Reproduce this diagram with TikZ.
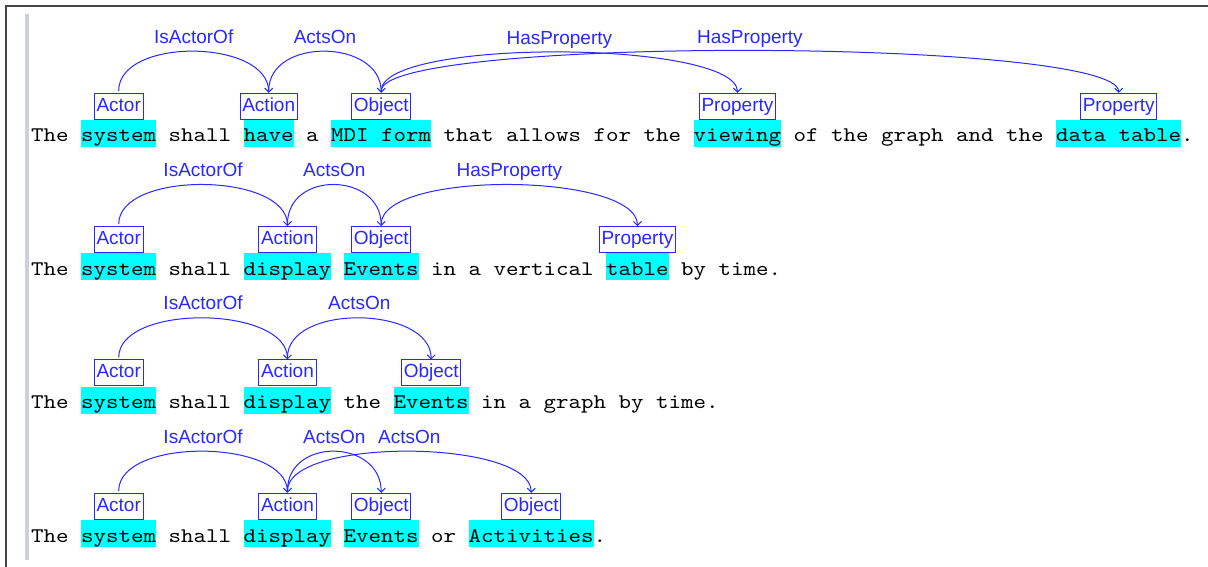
\documentclass[tikz,border=0pt]{standalone}
\usepackage{fontspec}
\newfontfamily\sentfont[FakeStretch=1.143]{lmmono10-regular.otf}
\newfontfamily\tagfont{Liberation Sans}
\usetikzlibrary{arrows.meta}
\definecolor{hlcyan}{RGB}{0,255,255}
\definecolor{relblue}{RGB}{40,40,255}
\definecolor{framegray}{RGB}{70,70,70}
\definecolor{barlav}{RGB}{205,205,228}
\tikzset{
  words/.style={anchor=base west, inner sep=0pt, text=black,
    font=\sentfont\fontsize{20.833}{24}\selectfont},
  hlword/.style={words, fill=hlcyan, text height=22pt, text depth=5pt},
  tag/.style={draw=relblue, line width=1pt, text=relblue, anchor=south,
    font=\tagfont\fontsize{19}{22}\selectfont,
    inner xsep=2.3pt, inner ysep=0pt, text height=14.5pt, text depth=4.5pt,
    minimum height=26pt},
  rel/.style={draw=relblue, line width=1pt,
    -{Straight Barb[length=4pt,width=8pt,line width=1pt]}},
  rellabel/.style={text=relblue, font=\tagfont\fontsize{19}{22}\selectfont,
    anchor=base, inner sep=0pt, yshift=8pt},
}
\newcommand\cx[1]{{31+12.5*#1}}
\begin{document}
\begin{tikzpicture}[x=1pt, y=-1pt]
\useasboundingbox (0,0) rectangle (1208,567);
% window frame and gutter bar
\draw[framegray, line width=2pt] (6,567) -- (6,6) -- (1208,6);
\fill[barlav] (25,14) rectangle (29,560);

% ---------- sentence 1 ----------
\node[words]  (s1a)     at (\cx{0},142)  {The};
\node[hlword] (s1sys)   at (\cx{4},142)  {system};
\node[words]  (s1b)     at (\cx{11},142) {shall};
\node[hlword] (s1have)  at (\cx{17},142) {have};
\node[words]  (s1c)     at (\cx{22},142) {a};
\node[hlword] (s1form)  at (\cx{24},142) {MDI form};
\node[words]  (s1d)     at (\cx{33},142) {that allows for the};
\node[hlword] (s1view)  at (\cx{53},142) {viewing};
\node[words]  (s1e)     at (\cx{61},142) {of the graph and the};
\node[hlword] (s1table) at (\cx{82},142) {data table};
\node[words]  (s1f)     at (\cx{92},142) {.};

\node[tag] (t1actor)  at (s1sys.north)   {Actor};
\node[tag] (t1action) at (s1have.north)  {Action};
\node[tag] (t1object) at (s1form.north)  {Object};
\node[tag] (t1prop)   at (s1view.north)  {Property};
\node[tag] (t1propb)  at (s1table.north) {Property};

\draw[rel] ([yshift=2pt]t1actor.north) .. controls +(0,-54) and +(0,-54) .. (t1action.north)
  node[rellabel, pos=0.5] {IsActorOf};
\draw[rel] ([yshift=2pt]t1action.north) .. controls +(0,-54) and +(0,-54) .. (t1object.north)
  node[rellabel, pos=0.5] {ActsOn};
\draw[rel] ([yshift=2pt]t1object.north) .. controls +(0,-53) and +(0,-53) .. (t1prop.north)
  node[rellabel, pos=0.5] {HasProperty};
\draw[rel] ([yshift=2pt]t1object.north) .. controls +(0,-55) and +(0,-55) .. (t1propb.north)
  node[rellabel, pos=0.5, yshift=-1pt] {HasProperty};

% ---------- sentence 2 ----------
\node[words]  (s2a)     at (\cx{0},275.33)  {The};
\node[hlword] (s2sys)   at (\cx{4},275.33)  {system};
\node[words]  (s2b)     at (\cx{11},275.33) {shall};
\node[hlword] (s2disp)  at (\cx{17},275.33) {display};
\node[hlword] (s2ev)    at (\cx{25},275.33) {Events};
\node[words]  (s2c)     at (\cx{32},275.33) {in a vertical};
\node[hlword] (s2table) at (\cx{46},275.33) {table};
\node[words]  (s2d)     at (\cx{52},275.33) {by time.};

\node[tag] (t2actor)  at (s2sys.north)   {Actor};
\node[tag] (t2action) at (s2disp.north)  {Action};
\node[tag] (t2object) at (s2ev.north)    {Object};
\node[tag] (t2prop)   at (s2table.north) {Property};

\draw[rel] ([yshift=2pt]t2actor.north) .. controls +(0,-54) and +(0,-54) .. (t2action.north)
  node[rellabel, pos=0.5] {IsActorOf};
\draw[rel] ([yshift=2pt]t2action.north) .. controls +(0,-54) and +(0,-54) .. (t2object.north)
  node[rellabel, pos=0.5] {ActsOn};
\draw[rel] ([yshift=2pt]t2object.north) .. controls +(0,-54) and +(0,-54) .. (t2prop.north)
  node[rellabel, pos=0.5] {HasProperty};

% ---------- sentence 3 ----------
\node[words]  (s3a)     at (\cx{0},408.67)  {The};
\node[hlword] (s3sys)   at (\cx{4},408.67)  {system};
\node[words]  (s3b)     at (\cx{11},408.67) {shall};
\node[hlword] (s3disp)  at (\cx{17},408.67) {display};
\node[words]  (s3c)     at (\cx{25},408.67) {the};
\node[hlword] (s3ev)    at (\cx{29},408.67) {Events};
\node[words]  (s3d)     at (\cx{36},408.67) {in a graph by time.};

\node[tag] (t3actor)  at (s3sys.north)  {Actor};
\node[tag] (t3action) at (s3disp.north) {Action};
\node[tag] (t3object) at (s3ev.north)   {Object};

\draw[rel] ([yshift=2pt]t3actor.north) .. controls +(0,-54) and +(0,-54) .. (t3action.north)
  node[rellabel, pos=0.5] {IsActorOf};
\draw[rel] ([yshift=2pt]t3action.north) .. controls +(0,-54) and +(0,-54) .. (t3object.north)
  node[rellabel, pos=0.5] {ActsOn};

% ---------- sentence 4 ----------
\node[words]  (s4a)     at (\cx{0},542)  {The};
\node[hlword] (s4sys)   at (\cx{4},542)  {system};
\node[words]  (s4b)     at (\cx{11},542) {shall};
\node[hlword] (s4disp)  at (\cx{17},542) {display};
\node[hlword] (s4ev)    at (\cx{25},542) {Events};
\node[words]  (s4c)     at (\cx{32},542) {or};
\node[hlword] (s4act)   at (\cx{35},542) {Activities};
\node[words]  (s4d)     at (\cx{45},542) {.};

\node[tag] (t4actor)   at (s4sys.north)  {Actor};
\node[tag] (t4action)  at (s4disp.north) {Action};
\node[tag] (t4object)  at (s4ev.north)   {Object};
\node[tag] (t4objectb) at (s4act.north)  {Object};

\draw[rel] ([yshift=2pt]t4actor.north) .. controls +(0,-54) and +(0,-54) .. (t4action.north)
  node[rellabel, pos=0.5] {IsActorOf};
\draw[rel] ([yshift=2pt]t4action.north) .. controls +(0,-54) and +(0,-54) .. (t4object.north)
  node[rellabel, pos=0.5] {ActsOn};
\draw[rel] ([yshift=2pt]t4action.north) .. controls +(0,-54) and +(0,-54) .. (t4objectb.north)
  node[rellabel, pos=0.5] {ActsOn};
\end{tikzpicture}
\end{document}
